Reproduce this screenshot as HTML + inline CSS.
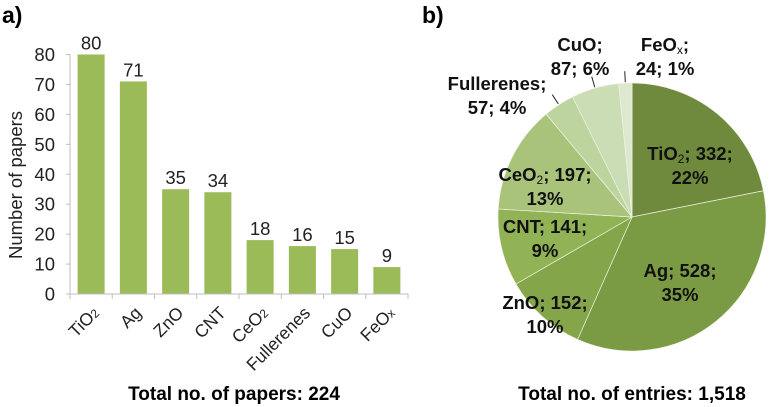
<!DOCTYPE html>
<html><head><meta charset="utf-8"><style>
body{margin:0;background:#fff}
svg{display:block;font-family:"Liberation Sans",Arial,sans-serif}
</style></head><body>
<svg width="769" height="407" viewBox="0 0 769 407">
<text x="2" y="23" font-size="23" font-weight="bold">a)</text>
<text x="422" y="23" font-size="23" font-weight="bold">b)</text>
<g id="bar"></g>
<g id="pie"></g>
<text x="234" y="400" font-size="19" font-weight="bold" text-anchor="middle">Total no. of papers: 224</text>
<text x="632" y="400" font-size="19" font-weight="bold" text-anchor="middle">Total no. of entries: 1,518</text>
</svg>
<script>
const categories=["TiO","Ag","ZnO","CNT","CeO","Fullerenes","CuO","FeO"];
const catSubs=["2","","","","2","","","x"];
const paperCounts=[80,71,35,34,18,16,15,9];
const yTicks=[0,10,20,30,40,50,60,70,80];
const pieLabels=["TiO","Ag","ZnO","CNT","CeO","Fullerenes","CuO","FeO"];
const pieSubs=["2","","","","2","","","x"];
const entryCounts=[332,528,152,141,197,57,87,24];
const entryPercents=["22%","35%","10%","9%","13%","4%","6%","1%"];

const NS="http://www.w3.org/2000/svg";
function mk(tag,attrs,parent){const e=document.createElementNS(NS,tag);for(const k in attrs)e.setAttribute(k,attrs[k]);parent.appendChild(e);return e;}
const bar=document.getElementById('bar');
const x0=70,x1=408,y0=294,yTop=54.5,ymax=80;
const yS=v=>y0-(y0-yTop)*v/ymax;
const bw=(x1-x0)/categories.length;
const xC=i=>x0+bw*(i+0.5);
yTicks.forEach(t=>{
 const tl=mk('text',{x:55,y:yS(t)+6.5,'font-size':18.5,'text-anchor':'end',fill:'#222'},bar);
 
 
 tl.textContent=t;
 const tk=mk('line',{x1:66,x2:70,y1:yS(t),y2:yS(t),stroke:'#bfbfbf'},bar);
 
 
});
const ya=mk('line',{x1:70,x2:70,y1:yTop,y2:y0,stroke:'#bfbfbf'},bar);


const yt=mk('text',{transform:'translate(22,185) rotate(-90)','font-size':18.5,'text-anchor':'middle',fill:'#222'},bar);


yt.textContent='Number of papers';
paperCounts.forEach((v,i)=>{
 const r=mk('rect',{x:xC(i)-13.5,y:yS(v),width:27,height:y0-yS(v),fill:'#9bbb59'},bar);
 
 
 const l=mk('text',{x:xC(i),y:yS(v)-5,'font-size':18.5,'text-anchor':'middle',fill:'#222'},bar);
 
 
 l.textContent=v;
 const cx=xC(i)+9,cy=314;
 const xl=mk('text',{x:cx,y:cy,'font-size':17.5,'text-anchor':'end',fill:'#222',transform:`rotate(-45 ${cx} ${cy})`},bar);
 
 
 xl.textContent=categories[i];
 if(catSubs[i]){const ts=mk('tspan',{'font-size':12},xl);ts.textContent=catSubs[i];}
});
for(let i=0;i<=categories.length;i++){
 const tk=mk('line',{x1:x0+bw*i,x2:x0+bw*i,y1:y0,y2:y0+5,stroke:'#bfbfbf'},bar);
 
 
}
const xa=mk('line',{x1:x0,x2:x1,y1:y0,y2:y0,stroke:'#bfbfbf'},bar);



const pie=document.getElementById('pie');
const cxp=632,cyp=217,R=134;
const colors=['#6f8a3c','#7a9a43','#84a549','#92b355','#a9c47a','#bed49f','#cbddb4','#dde8cf'];
const total=entryCounts.reduce((a,b)=>a+b,0);
let a=0;
const pt=(ang,r)=>[cxp+r*Math.sin(ang),cyp-r*Math.cos(ang)];
const labelPos=[[690,160],[680,277],[545,309],[545,233],[545,181],[497,90],[580,51],[665,51]];
entryCounts.forEach((v,i)=>{
 const a2=a+2*Math.PI*v/total;
 const [sx,sy]=pt(a,R),[ex,ey]=pt(a2,R);
 const large=(a2-a)>Math.PI?1:0;
 const p=mk('path',{d:`M${cxp},${cyp}L${sx},${sy}A${R},${R} 0 ${large} 1 ${ex},${ey}Z`,fill:colors[i],stroke:'#eef2e6','stroke-width':0.7},pie);
 
 
 const mid=(a+a2)/2;
 a=a2;
 const [lx,ly]=labelPos[i];
 const outer=i>=5;
 const t=mk('text',{x:lx,y:ly,'font-size':18.5,'font-weight':'bold','text-anchor':'middle',fill:'#111'},pie);
 
 
 const t1=mk('tspan',{x:lx},t);t1.textContent=pieLabels[i];
 if(pieSubs[i]){const s=mk('tspan',{'font-size':12,'font-weight':'normal',dy:3},t);s.textContent=pieSubs[i];const s2=mk('tspan',{dy:-3},t);s2.textContent=outer?';':'; '+v+';';}
 else{const s2=mk('tspan',{},t);s2.textContent=outer?';':'; '+v+';';}
 const l2=mk('tspan',{x:lx,dy:24},t);l2.textContent=outer?(v+'; '+entryPercents[i]):entryPercents[i];
 if(outer){
  const [ax,ay]=pt(mid,R+1);const [bx,by]=pt(mid,R+12);
  const ln=mk('line',{x1:ax,y1:ay,x2:bx,y2:by,stroke:'#222','stroke-width':1},pie);
  
  
 }
});
</script>
</body></html>
